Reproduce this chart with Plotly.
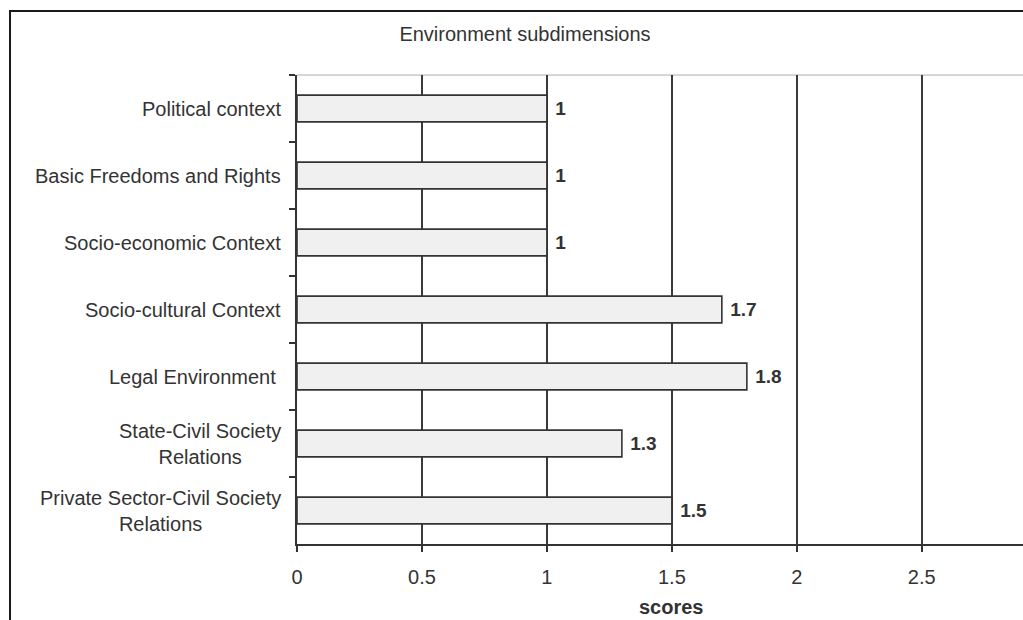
import plotly.graph_objects as go

# Subdimension scores (top to bottom)
categories = [
    "Political context",
    "Basic Freedoms and Rights",
    "Socio-economic Context",
    "Socio-cultural Context",
    "Legal Environment\u00a0",
    "State-Civil Society<br>Relations",
    "Private Sector-Civil Society<br>Relations",
]
scores = [1, 1, 1, 1.7, 1.8, 1.3, 1.5]
x_ticks = [0, 0.5, 1, 1.5, 2, 2.5]
x_tick_labels = ["0", "0.5", "1", "1.5", "2", "2.5"]

FONT = "Liberation Sans, Arial, Helvetica, sans-serif"
INK = "#333333"

fig = go.Figure(
    go.Bar(
        x=scores,
        y=categories,
        orientation="h",
        width=0.4,
        marker=dict(color="#f0f0f0", line=dict(color=INK, width=1.6)),
        text=[f"{v:g}" for v in scores],
        texttemplate="\u00a0<b>%{text}</b>",
        textposition="outside",
        textfont=dict(family=FONT, size=19, color=INK),
        cliponaxis=False,
        hoverinfo="skip",
    )
)

# Category labels as centred multi-line annotations left of the axis
for cat in categories:
    fig.add_annotation(
        x=0, xref="paper", xanchor="right", xshift=-14,
        y=cat, yref="y", yanchor="middle",
        text=cat, showarrow=False, align="center",
        font=dict(family=FONT, size=20, color=INK),
    )

# Axis title
fig.add_annotation(
    x=1.5, xref="x", xanchor="center",
    y=0, yref="paper", yanchor="top", yshift=-50,
    text="<b>scores</b>", showarrow=False,
    font=dict(family=FONT, size=20, color=INK),
)

# Outer chart frame and the light top edge of the plot area
fig.add_shape(type="rect", xref="paper", yref="paper",
              x0=-0.3953, x1=1.2, y0=-0.6, y1=1.1365,
              line=dict(color="#1a1a1a", width=2), layer="above")
fig.add_shape(type="line", xref="paper", yref="paper",
              x0=0, x1=1, y0=1, y1=1,
              line=dict(color="#c8c8c8", width=1.5), layer="below")

fig.update_layout(
    width=1023,
    height=620,
    margin=dict(l=297, r=0, t=75, b=76),
    paper_bgcolor="white",
    plot_bgcolor="white",
    showlegend=False,
    title=dict(
        text="Environment subdimensions",
        x=525 / 1023, xanchor="center", xref="container",
        y=1 - 34 / 620, yanchor="middle", yref="container",
        font=dict(family=FONT, size=20, color=INK),
    ),
    xaxis=dict(
        range=[0, 2.905],
        tickvals=x_ticks,
        ticktext=x_tick_labels,
        showgrid=True,
        gridcolor="#3a3a3a",
        gridwidth=1.5,
        zeroline=False,
        showline=True,
        linecolor=INK,
        linewidth=2,
        ticks="outside",
        ticklen=6,
        tickwidth=1.5,
        tickcolor=INK,
        ticklabelstandoff=8,
        tickfont=dict(family=FONT, size=20, color=INK),
        fixedrange=True,
    ),
    yaxis=dict(
        categoryorder="array",
        categoryarray=categories,
        autorange="reversed",
        showticklabels=False,
        tickson="boundaries",
        ticks="outside",
        ticklen=6,
        tickwidth=1.5,
        tickcolor=INK,
        showline=True,
        linecolor=INK,
        linewidth=2,
        showgrid=False,
        fixedrange=True,
    ),
)

fig.write_html("out.html")
